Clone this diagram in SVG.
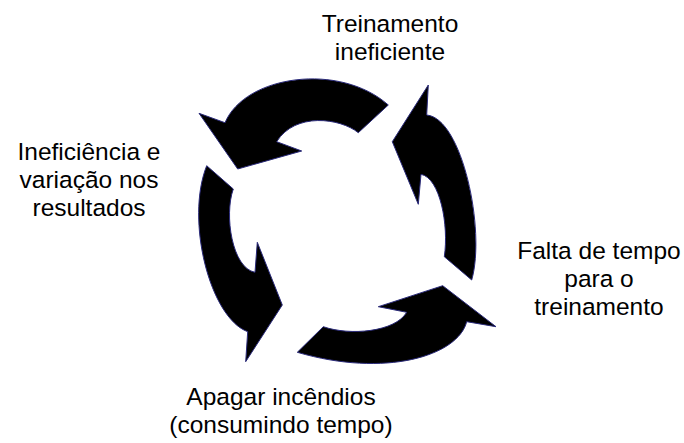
<svg xmlns="http://www.w3.org/2000/svg" width="684" height="443" viewBox="0 0 684 443">
<style>
.arrow{fill:#000;stroke:#2a2a7a;stroke-width:1;stroke-linejoin:miter}
.lbl{font-family:"Liberation Sans",Arial,sans-serif;font-size:24.5px;fill:#000;text-anchor:middle}
</style>
<rect width="684" height="443" fill="#fff"/>
<g id="connectors">
<path id="arrow-top" class="arrow" d="M199,113.3 L225,122.7 C245,75 340,62 388.3,105 L358.3,132.7 C340,118 295,112 276.7,141.7 L301.7,151 L237.7,169 Z"/>
<path id="arrow-right" class="arrow" d="M428.3,85 L426.7,115 C462,118 486,230 471.7,280 L444.3,256.7 C449,225 440,178 421,174.3 L418.3,204.3 L392.3,141.7 Z"/>
<path id="arrow-bottom" class="arrow" d="M297.3,352.3 L323.3,326.7 C350,336 395,332 406.7,312.3 L378.3,306.7 L442.7,285.7 L496,326.7 L466.7,321.7 C458,356 385,378 297.3,352.3 Z"/>
<path id="arrow-left" class="arrow" d="M206.7,165.7 L233.3,189 C224,215 232,268 255,272.3 L257.3,242.3 L282.3,305 L245.7,361.7 L247.7,331.7 C210,318 185,220 206.7,165.7 Z"/>
</g>
<g id="node-treinamento">
<text class="lbl" x="390" y="32">Treinamento</text>
<text class="lbl" x="390" y="60">ineficiente</text>
</g>
<g id="node-falta">
<text class="lbl" x="599" y="259">Falta de tempo</text>
<text class="lbl" x="599" y="287">para o</text>
<text class="lbl" x="599" y="315">treinamento</text>
</g>
<g id="node-apagar">
<text class="lbl" x="281" y="405">Apagar incêndios</text>
<text class="lbl" x="281" y="433">(consumindo tempo)</text>
</g>
<g id="node-ineficiencia">
<text class="lbl" x="89" y="160">Ineficiência e</text>
<text class="lbl" x="89" y="188">variação nos</text>
<text class="lbl" x="89" y="216">resultados</text>
</g>
</svg>
